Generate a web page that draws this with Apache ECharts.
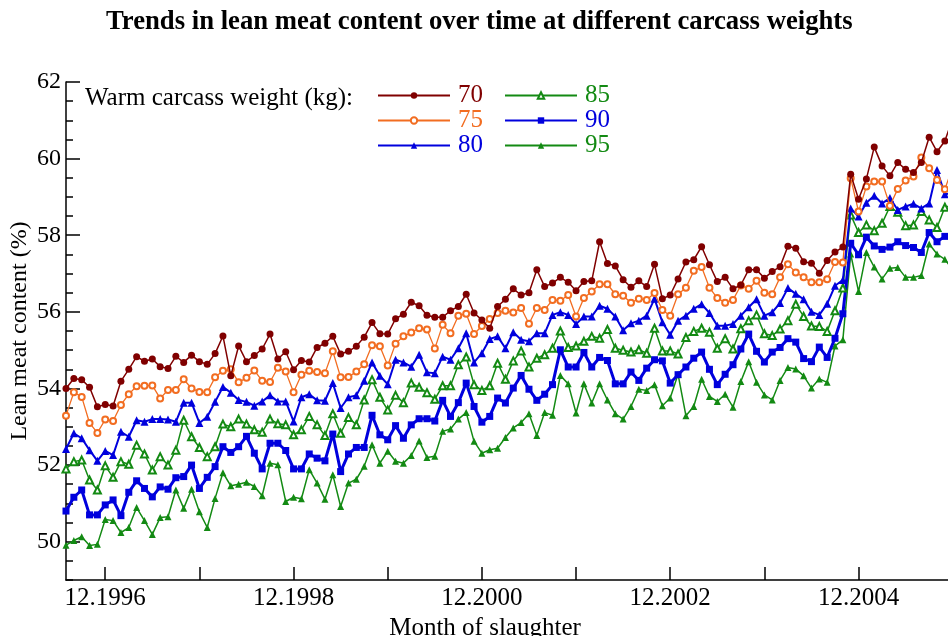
<!DOCTYPE html>
<html>
<head>
<meta charset="utf-8">
<script src="https://cdn.jsdelivr.net/npm/echarts@6/dist/echarts.min.js"></script>
<style>html,body{margin:0;padding:0;background:#fff;}#c{width:948px;height:636px;}</style>
</head>
<body>
<div id="c"></div>
<script>
// Monthly data starting 07.1996 (index 0)
const startMonth = '07.1996';
const seriesNames = ['70', '75', '80', '85', '90', '95'];
const majorTickLabels = ['12.1996', '12.1998', '12.2000', '12.2002', '12.2004'];
const minorTickLabels = ['12.1997', '12.1999', '12.2001', '12.2003', '12.2005'];
const yTickLabels = [50, 52, 54, 56, 58, 60, 62];

const s70 = [54.00,54.26,54.23,54.03,53.52,53.58,53.54,54.19,54.50,54.83,54.71,54.77,54.57,54.52,54.84,54.68,54.87,54.70,54.63,54.91,55.37,54.33,55.11,54.70,
54.86,55.03,55.42,54.77,54.96,54.49,54.73,54.69,55.07,55.18,55.36,54.90,54.97,55.10,55.34,55.72,55.43,55.42,55.82,55.94,56.25,56.16,55.91,55.86,
55.86,56.03,56.14,56.46,55.97,55.79,55.57,56.14,56.33,56.60,56.44,56.50,57.10,56.66,56.75,56.90,56.77,56.55,56.79,56.81,57.83,57.26,57.20,56.84,
56.64,56.81,56.66,57.24,56.34,56.44,56.86,57.30,57.36,57.70,57.23,56.79,56.90,56.60,56.70,57.10,57.10,56.88,57.05,57.18,57.71,57.66,57.31,57.27,
57.01,57.34,57.56,57.69,59.59,58.94,59.47,60.30,59.81,59.55,59.90,59.72,59.64,59.90,60.56,60.18,60.46,61.05];
const s75 = [53.29,53.90,53.78,53.10,52.84,53.19,53.15,53.57,53.85,54.06,54.07,54.08,53.74,53.96,53.96,54.24,54.00,53.91,53.90,54.29,54.46,54.50,54.16,54.28,
54.47,54.20,54.17,54.54,54.44,53.90,54.36,54.46,54.43,54.40,54.97,54.29,54.30,54.44,54.63,55.13,55.10,54.60,55.17,55.36,55.46,55.57,55.54,55.04,
55.66,55.44,55.90,55.95,55.42,55.63,55.81,55.97,56.03,55.98,56.10,55.69,56.10,56.05,56.31,56.29,56.44,55.88,56.36,56.53,56.72,56.72,56.46,56.42,
56.24,56.34,56.31,56.49,56.05,55.90,56.46,56.63,57.07,57.17,56.63,56.36,56.24,56.31,56.69,56.60,56.81,56.50,56.46,56.90,57.24,57.03,56.90,56.77,
56.77,56.85,57.30,57.29,59.49,58.62,59.27,59.40,59.40,58.77,59.21,59.43,59.53,60.03,59.75,59.44,59.20,59.78];
const s80 = [52.42,52.83,52.70,52.39,52.11,52.37,52.26,52.87,52.74,53.17,53.13,53.20,53.20,53.19,53.13,53.63,53.63,53.10,53.26,53.65,54.04,53.89,53.70,53.65,
53.55,53.66,53.82,53.66,53.66,53.14,53.77,53.85,53.69,53.68,54.14,53.49,53.77,53.82,54.20,54.68,54.33,54.11,54.75,54.68,54.57,54.88,54.42,54.40,
54.83,54.75,55.05,55.44,54.68,54.92,55.29,55.36,55.05,55.47,55.27,55.23,55.44,55.44,55.92,55.99,55.92,55.68,55.88,55.88,56.16,56.08,55.88,55.52,
55.70,55.77,55.90,56.34,55.73,55.40,55.77,55.90,56.08,56.20,55.97,55.64,55.64,55.68,55.90,56.12,56.33,55.90,55.99,56.23,56.62,56.47,56.33,56.00,
55.92,56.21,56.68,56.83,58.70,58.49,58.85,59.03,58.83,58.97,58.66,58.75,58.82,58.70,58.83,59.70,59.07,59.10];
const s85 = [51.90,52.09,52.13,51.61,51.35,51.98,51.68,52.09,52.02,52.52,52.29,51.87,52.22,52.00,52.39,53.17,52.74,52.46,52.22,52.48,53.07,53.00,53.20,53.07,
52.92,52.86,53.20,53.08,53.05,52.79,52.92,53.27,53.05,52.77,53.34,52.83,53.24,53.05,53.70,54.23,53.77,53.44,53.82,53.63,54.14,54.03,53.89,53.72,
54.07,54.07,54.62,54.82,54.10,53.95,54.07,54.66,54.24,54.72,54.98,54.56,54.79,54.88,55.05,55.50,55.07,55.11,55.23,55.36,55.31,55.54,55.05,55.00,
54.95,55.01,54.92,55.57,54.98,54.98,54.90,55.33,55.49,55.57,55.47,55.05,55.30,55.03,55.56,55.77,55.92,55.43,55.38,55.55,55.77,56.20,55.88,55.63,
55.62,55.49,56.03,56.62,58.53,58.07,58.27,58.12,58.31,58.75,58.60,58.25,58.27,58.62,58.40,58.20,58.73,58.80];
const s90 = [50.80,51.16,51.35,50.70,50.70,50.96,51.09,50.68,51.29,51.59,51.39,51.17,51.43,51.37,51.67,51.70,52.00,51.39,51.68,51.96,52.48,52.33,52.48,52.75,
52.31,51.90,52.57,52.57,52.38,51.90,51.90,52.29,52.18,52.11,52.81,51.83,52.29,52.46,52.46,53.30,52.79,52.66,53.03,52.70,53.05,53.21,53.21,53.15,
53.69,53.27,53.63,54.14,53.53,53.12,53.27,53.75,53.62,54.01,54.34,53.98,53.69,53.85,54.10,55.01,54.56,54.56,54.94,54.56,54.81,54.73,54.12,54.12,
54.43,54.21,54.53,54.75,54.72,54.14,54.36,54.56,54.79,54.95,54.50,54.10,54.37,54.62,55.03,55.42,54.97,54.69,54.95,55.07,55.30,55.21,54.78,54.70,
55.08,54.81,55.31,55.95,57.79,57.49,57.95,57.72,57.63,57.69,57.83,57.73,57.68,57.55,58.07,57.83,57.97,58.00];
const s95 = [49.91,50.03,50.13,49.90,49.93,50.58,50.55,50.24,50.37,50.89,50.55,50.19,50.63,50.65,51.35,50.87,51.37,50.78,50.37,51.13,51.80,51.46,51.50,51.55,
51.44,51.20,52.05,52.01,51.05,51.16,51.12,51.88,51.53,51.11,51.75,50.92,51.53,51.63,51.97,52.53,52.05,52.36,52.10,52.05,52.25,52.63,52.20,52.23,
52.88,52.94,53.20,53.37,52.62,52.31,52.40,52.44,52.72,52.97,53.11,53.34,52.77,53.37,53.30,54.34,54.12,53.36,54.12,53.62,54.12,53.70,53.34,53.20,
53.53,53.98,53.95,54.10,53.55,53.75,54.37,53.29,53.53,54.24,53.79,53.66,53.85,53.51,54.18,54.70,54.16,53.83,53.70,54.21,54.55,54.51,54.33,54.01,
54.25,54.16,55.11,55.27,57.51,56.53,57.55,57.17,56.86,57.14,57.16,56.90,56.90,56.95,57.77,57.51,57.37,57.10];

const allValues = [s70, s75, s80, s85, s90, s95];
const colors = ['#800000', '#f26d21', '#0000dd', '#138a13', '#0000dd', '#138a13'];
const symbols = ['circle', 'emptyCircle', 'triangle', 'emptyTriangle', 'rect', 'triangle'];
const symbolSizes = [7, 6, 8, 7, 7, 7];
const lineWidths = [1.5, 1.3, 2, 1.5, 3, 1.5];

function monthIndex(label) {
  const [m, y] = label.split('.').map(Number);
  const [m0, y0] = startMonth.split('.').map(Number);
  return (y - y0) * 12 + (m - m0);
}
const majorIdx = majorTickLabels.map(monthIndex);
const tickIdx = majorTickLabels.concat(minorTickLabels).map(monthIndex).sort((a, b) => a - b);
const labelOf = {};
majorTickLabels.forEach((l, k) => { labelOf[majorIdx[k]] = l; });

const FONT = 'Liberation Serif';
const chart = echarts.init(document.getElementById('c'), null, { renderer: 'canvas' });

const series = seriesNames.map((n, k) => ({
  name: n,
  type: 'line',
  data: allValues[k].map((v, i) => [i, v]),
  symbol: symbols[k],
  symbolSize: symbolSizes[k],
  showAllSymbol: true,
  color: colors[k],
  lineStyle: { width: lineWidths[k], color: colors[k] },
  itemStyle: { color: colors[k] },
  clip: true,
  z: 10 - k,
  animation: false
}));

const legendItem = (n) => ({ name: n, textStyle: { color: colors[seriesNames.indexOf(n)] } });
const legendCommon = {
  orient: 'vertical', top: 83, padding: 0, itemWidth: 72, itemHeight: 8, itemGap: 0,
  textStyle: { fontFamily: FONT, fontSize: 25, lineHeight: 25, padding: [0, 0, 0, 3] },
  selectedMode: false
};

chart.setOption({
  backgroundColor: '#fff',
  animation: false,
  title: [
    { text: 'Trends in lean meat content over time at different carcass weights', left: 106, top: 9, padding: 0,
      textStyle: { fontFamily: FONT, fontSize: 26.7, fontWeight: 'bold', color: '#000' } },
    { text: 'Warm carcass weight (kg):', left: 85, top: 86, padding: 0,
      textStyle: { fontFamily: FONT, fontSize: 25, fontWeight: 'normal', color: '#000' } }
  ],
  legend: [
    Object.assign({}, legendCommon, { left: 377, data: ['70', '75', '80'].map(legendItem) }),
    Object.assign({}, legendCommon, { left: 504, data: ['85', '90', '95'].map(legendItem) })
  ],
  grid: { left: 66, right: 0, top: 82, bottom: 56, containLabel: false, outerBoundsMode: 'none' },
  xAxis: {
    type: 'value', min: 0, max: 112.4,
    name: 'Month of slaughter', nameLocation: 'middle', nameGap: 36, nameMoveOverlap: false,
    nameTextStyle: { fontFamily: FONT, fontSize: 25, color: '#000', padding: [0, 44, 0, 0] },
    axisLine: { show: true, lineStyle: { color: '#000', width: 1.5 } },
    axisTick: { show: true, inside: true, length: 13, customValues: tickIdx, lineStyle: { color: '#000', width: 1.5 } },
    axisLabel: { show: true, customValues: majorIdx, formatter: (v) => labelOf[v] || '', margin: 6,
      fontFamily: FONT, fontSize: 25, color: '#000' },
    splitLine: { show: false }
  },
  yAxis: [
    {
      type: 'value', min: 49, max: 62, interval: 0.5,
      name: 'Lean meat content (%)', nameLocation: 'middle', nameGap: 34, nameRotate: 90, nameMoveOverlap: false,
      nameTextStyle: { fontFamily: FONT, fontSize: 24, color: '#000' },
      axisLine: { show: true, lineStyle: { color: '#000', width: 1.5 } },
      axisTick: { show: true, inside: true, length: 7, lineStyle: { color: '#000', width: 1.5 } },
      axisLabel: { show: true, customValues: yTickLabels, formatter: (v) => String(v), margin: 5,
        fontFamily: FONT, fontSize: 24, color: '#000' },
      splitLine: { show: false }
    },
    {
      type: 'value', min: 49, max: 62, position: 'left',
      axisLine: { show: false },
      axisTick: { show: true, inside: true, length: 14, customValues: yTickLabels, lineStyle: { color: '#000', width: 1.5 } },
      axisLabel: { show: false },
      splitLine: { show: false }
    }
  ],
  series: series
});
</script>
</body>
</html>
